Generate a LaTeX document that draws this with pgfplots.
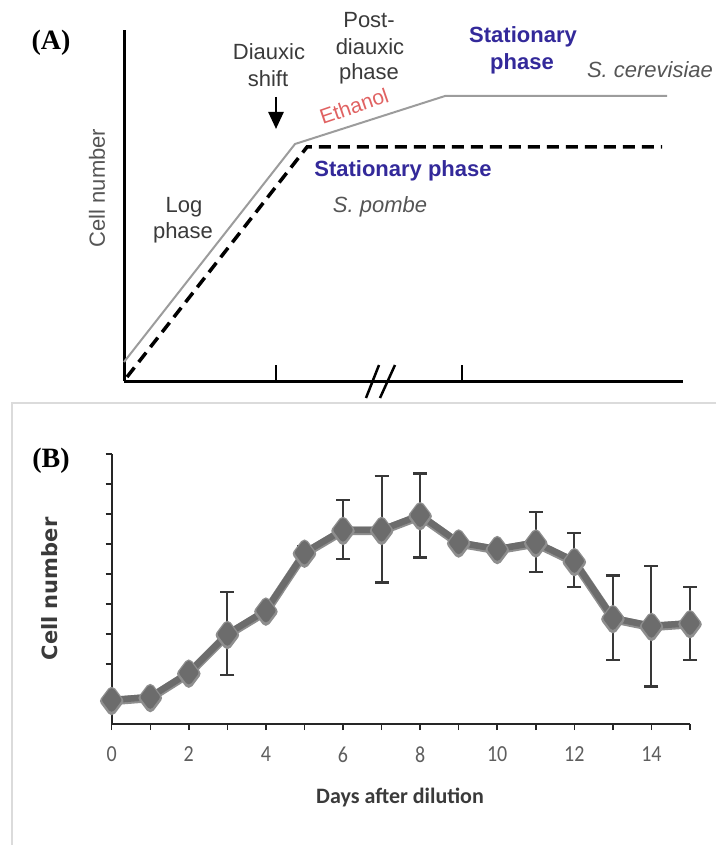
\documentclass[border=0pt]{standalone}
\usepackage{pgfplots}
\usepackage{pgfplotstable}
\pgfplotsset{compat=1.18}
\usepackage{fontspec}
\setmainfont{Liberation Sans}
\newfontfamily\serifb{Liberation Serif}
\newfontfamily\carlito{Carlito}
\newfontfamily\dejavu{DejaVu Sans}
\usetikzlibrary{arrows.meta}
\definecolor{stat}{HTML}{33299A}
\definecolor{eth}{HTML}{E06262}
\definecolor{txt}{HTML}{3A3A3A}
\definecolor{lgray}{HTML}{5E5E5E}
\definecolor{spgray}{HTML}{555555}
\definecolor{linegray}{HTML}{9C9C9C}
\definecolor{core}{HTML}{6C6C6C}
\definecolor{halo}{HTML}{8E8E8E}
\definecolor{ebar}{HTML}{383838}

\pgfplotstableread{
x y
0 0.80
1 0.90
2 1.71
3 3.00
4 3.78
5 5.71
6 6.47
7 6.47
8 6.96
9 6.05
10 5.83
11 6.05
12 5.43
13 3.53
14 3.27
15 3.36
}\datB

\pgfplotstableread{
x y ep em
3 3.00 1.40 1.37
5 5.71 0.22 0.22
6 6.47 1.00 0.97
7 6.47 1.80 1.76
8 6.96 1.39 1.41
11 6.05 1.02 0.98
12 5.43 0.94 0.86
13 3.53 1.42 1.39
14 3.27 2.00 2.02
15 3.36 1.21 1.22
}\errB

\begin{document}
\begin{tikzpicture}
\path[use as bounding box] (0pt,0pt) rectangle (716pt,-845pt);

% ---------------- Panel A ----------------
\begin{axis}[at={(124pt,-381pt)}, anchor=south west, scale only axis,
  width=559pt, height=351pt, xmin=124, xmax=683, ymin=0, ymax=351,
  axis x line=bottom, axis y line=left,
  axis line style={-, line width=3pt, black},
  xtick={276,462}, xticklabel=\empty, ytick=\empty,
  tick align=inside, major tick length=16pt,
  tick style={line width=2.5pt, black},
  clip=false]
\addplot[color=linegray, line width=2pt] coordinates {(124,19) (295,237) (445,285) (667,285)};
\addplot[black, line width=3.5pt, dash pattern=on 12pt off 7pt] coordinates {(127,4) (307,234) (662,234)};
\draw[black, line width=2.5pt] (axis cs:366,-17) -- (axis cs:379,16);
\draw[black, line width=2.5pt] (axis cs:380,-17) -- (axis cs:395,16);
\end{axis}

\draw[-{Triangle[length=17pt,width=15pt]}, line width=2.5pt] (276pt,-97pt) -- (276pt,-129pt);

\node[anchor=base, font=\serifb\bfseries\fontsize{28}{28}\selectfont] at (51pt,-50pt) {(A)};
\node[anchor=base, font=\fontsize{22}{26}\selectfont, text=txt] at (369pt,-28pt) {Post-};
\node[anchor=base, font=\fontsize{22}{26}\selectfont, text=txt] at (370pt,-55pt) {diauxic};
\node[anchor=base, font=\fontsize{22}{26}\selectfont, text=txt] at (369pt,-80pt) {phase};
\node[anchor=base, font=\fontsize{22}{26}\selectfont, text=txt] at (269pt,-60pt) {Diauxic};
\node[anchor=base, font=\fontsize{22}{26}\selectfont, text=txt] at (268pt,-87pt) {shift};
\node[anchor=base, font=\fontsize{22}{26}\selectfont, text=txt] at (184pt,-212pt) {Log};
\node[anchor=base, font=\fontsize{22}{26}\selectfont, text=txt] at (183pt,-238pt) {phase};
\node[anchor=base, font=\bfseries\fontsize{22}{26}\selectfont, text=stat] at (523pt,-43pt) {Stationary};
\node[anchor=base, font=\bfseries\fontsize{22}{26}\selectfont, text=stat] at (522pt,-70pt) {phase};
\node[anchor=base, font=\itshape\fontsize{22}{26}\selectfont, text=spgray] at (650pt,-78pt) {S. cerevisiae};
\node[anchor=base, font=\bfseries\fontsize{22}{26}\selectfont, text=stat] at (403pt,-177pt) {Stationary phase};
\node[anchor=base, font=\itshape\fontsize{22}{26}\selectfont, text=spgray] at (380pt,-212pt) {S. pombe};
\node[rotate=19, font=\fontsize{21}{24}\selectfont, text=eth, inner sep=0pt] at (354pt,-106pt) {Ethanol};
\node[rotate=90, font=\fontsize{22}{26}\selectfont, text=spgray] at (97pt,-188pt) {Cell number};

% ---------------- Panel B ----------------
\draw[color=black!14, line width=1.2pt] (716pt,-403pt) -- (12pt,-403pt) -- (12pt,-845pt);
\node[anchor=base, font=\serifb\bfseries\fontsize{28}{28}\selectfont] at (51pt,-467pt) {(B)};

\begin{axis}[at={(111.7pt,-724pt)}, anchor=south west, scale only axis,
  width=578.3pt, height=270pt, xmin=0, xmax=15, ymin=0, ymax=9,
  axis x line=bottom, axis y line=left,
  axis line style={-, line width=1.8pt, black!85},
  xtick={0,2,...,14}, minor xtick={1,3,...,15},
  ytick={1,...,9}, yticklabel=\empty,
  tick align=outside, major tick length=6pt, minor tick length=6pt,
  tick style={line width=1.5pt, black!85},
  xticklabel={\scalebox{1}[1.15]{\carlito\fontsize{20}{20}\selectfont\pgfmathprintnumber[assume math mode=true]{\tick}}},
  xticklabel style={text=lgray, yshift=-13pt},
  clip=false]
\addplot[color=halo, line width=8.5pt, line join=round, yshift=-1pt, mark=diamond*, mark size=10pt, mark options={halo, draw=halo}] table[x=x,y=y]{\datB};
\addplot[color=core, line width=6.5pt, line join=round, mark=diamond*, mark size=8.5pt, mark options={core, draw=core}] table[x=x,y=y]{\datB};
\addplot[color=ebar, line width=2.6pt, only marks, mark=*, mark size=0.5pt, mark options={core},
  error bars/.cd, y dir=both, y explicit, error mark=|,
  error bar style={line width=2pt, ebar},
  error mark options={line width=2.6pt, mark size=7pt, ebar}]
  table[x=x, y=y, y error plus=ep, y error minus=em]{\errB};
\end{axis}

\node[font=\carlito\bfseries\fontsize{22}{22}\selectfont, text=txt] at (400pt,-797pt) {Days after dilution};
\node[rotate=90, font=\dejavu\bfseries\fontsize{21}{21}\selectfont, text=txt] at (50pt,-589pt) {Cell number};
\end{tikzpicture}
\end{document}
